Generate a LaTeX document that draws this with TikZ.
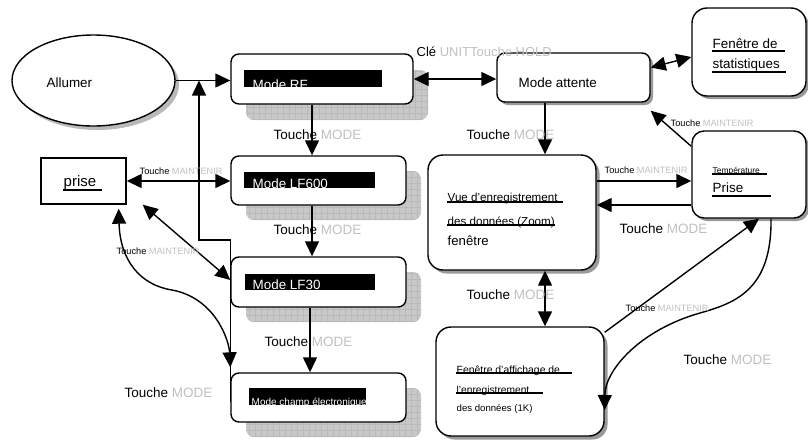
\documentclass[tikz,border=0pt]{standalone}
\usepackage{xcolor}
\usepackage{fontspec}
\setmainfont{Liberation Sans}
\usepackage{tikz}
\usetikzlibrary{shapes.geometric}
\usetikzlibrary{arrows.meta}

\definecolor{lgray}{RGB}{192,192,192}
\definecolor{shgray}{RGB}{200,200,200}
\newcommand{\tch}[1]{Touche \textcolor{lgray}{#1}}

\begin{document}
\begin{tikzpicture}[x=1pt,y=-1pt,line width=1.4pt]

			\tikzstyle{modebox} = [draw,fill=white,rounded corners=8pt,inner sep=0pt]
			\tikzstyle{gridshadow} = [fill=shgray,rounded corners=8pt,inner sep=0pt,
				path picture={\draw[gray!55,line width=0.4pt,step=6pt] (path picture bounding box.south west) grid (path picture bounding box.north east);}]
			\tikzstyle{winbox} = [draw,fill=white,inner sep=0pt]
			\tikzstyle{txt} = [anchor=base west,inner sep=0pt,font=\fontsize{13.4}{16}\selectfont]
			\tikzstyle{lbl} = [anchor=base west,inner sep=0pt,font=\fontsize{13.5}{16}\selectfont]
			\tikzstyle{slbl} = [anchor=base west,inner sep=0pt,font=\fontsize{9.2}{11}\selectfont]
			\tikzstyle{arr} = [-{Triangle[length=15pt,width=14pt]}]
			\tikzstyle{darr} = [{Triangle[length=15pt,width=14pt]}-{Triangle[length=15pt,width=14pt]}]
			\tikzstyle{uline} = [line width=2pt]

			\useasboundingbox (0,0) rectangle (808,440);

			% shadows
			\node[ellipse,fill=gray!55,minimum width=163pt,minimum height=91pt,inner sep=0pt] (allumersh) at (97.5,84.5) {};
			\node[gridshadow,minimum width=182pt,minimum height=50pt] (rfsh) at (337,95) {};
			\node[gridshadow,minimum width=175pt,minimum height=49pt] (lfsixsh) at (333.5,195.5) {};
			\node[gridshadow,minimum width=175pt,minimum height=50pt] (lftrsh) at (333.5,297) {};
			\node[gridshadow,minimum width=175pt,minimum height=49pt] (champsh) at (333.5,412.5) {};
			\node[fill=gray!80,rounded corners=8pt,minimum width=153pt,minimum height=49pt,inner sep=0pt] (attentesh) at (576.5,80.5) {};
			\node[fill=gray!80,rounded corners=15pt,minimum width=114pt,minimum height=88pt,inner sep=0pt] (statssh) at (752,55) {};
			\node[fill=gray!80,rounded corners=15pt,minimum width=168pt,minimum height=115pt,inner sep=0pt] (vuesh) at (515.5,216) {};
			\node[fill=gray!80,rounded corners=12pt,minimum width=114pt,minimum height=87pt,inner sep=0pt] (tempsh) at (752,177.5) {};
			\node[fill=gray!80,rounded corners=15pt,minimum width=168pt,minimum height=109pt,inner sep=0pt] (oneksh) at (523.5,385) {};

			% boxes
			\node[ellipse,draw,fill=white,minimum width=163pt,minimum height=91pt,inner sep=0pt] (allumer) at (93.5,80.5) {};
			\node[modebox,minimum width=182pt,minimum height=50pt] (rf) at (322,79) {};
			\node[modebox,minimum width=175pt,minimum height=49pt] (lfsix) at (318.5,180.5) {};
			\node[modebox,minimum width=175pt,minimum height=50pt] (lftr) at (318.5,282) {};
			\node[modebox,minimum width=175pt,minimum height=49pt] (champ) at (318.5,397.5) {};
			\node[winbox,minimum width=85pt,minimum height=46pt] (prise) at (83.5,181) {};
			\node[modebox,minimum width=153pt,minimum height=49pt] (attente) at (573.5,77.5) {};
			\node[winbox,rounded corners=15pt,minimum width=114pt,minimum height=88pt] (stats) at (749,52) {};
			\node[winbox,rounded corners=15pt,minimum width=168pt,minimum height=115pt] (vue) at (512,212.5) {};
			\node[winbox,rounded corners=12pt,minimum width=114pt,minimum height=87pt] (temp) at (749,174.5) {};
			\node[winbox,rounded corners=15pt,minimum width=168pt,minimum height=109pt] (onek) at (520,381.5) {};

			% black bars in the mode boxes
			\fill (rf.north west) ++(14,17) rectangle ++(138,17);
			\fill (lfsix.north west) ++(14,17) rectangle ++(131,16);
			\fill (lftr.north west) ++(15,18) rectangle ++(130,16);
			\fill (champ.north west) ++(19,16) rectangle ++(117,17);

			% texts
			\node[txt] (allumertxt) at (46,87) {Allumer};
			\node[txt,white] (rftxt) at (252,89) {Mode RF};
			\node[txt,white] (lfsixtxt) at (252,188.5) {Mode LF600};
			\node[txt,white] (lftrtxt) at (252,289.5) {Mode LF30};
			\node[txt,white,font=\fontsize{10}{12}\selectfont] (champtxt) at (251,405.5) {Mode champ électronique};
			\node[txt,font=\fontsize{15}{18}\selectfont] (prisetxt) at (63,186) {prise};
			\node[txt] (attentetxt) at (518,87) {Mode attente};
			\node[txt] (statsa) at (712,48) {Fenêtre de};
			\node[txt] (statsb) at (712,68) {statistiques};
			\node[txt,font=\fontsize{11.6}{14}\selectfont] (vuea) at (447,201) {Vue d'enregistrement};
			\node[txt,font=\fontsize{11.6}{14}\selectfont] (vueb) at (447,225) {des données (Zoom)};
			\node[txt,font=\fontsize{13.2}{16}\selectfont] (vuec) at (447,245) {fenêtre};
			\node[txt,font=\fontsize{8.4}{10}\selectfont] (tempa) at (712,173) {Température};
			\node[txt] (tempb) at (712,192) {Prise};
			\node[txt,font=\fontsize{10.4}{12}\selectfont] (oneka) at (456,373.5) {Fenêtre d'affichage de};
			\node[txt,font=\fontsize{10.2}{12}\selectfont] (onekb) at (456,393) {l'enregistrement};
			\node[txt,font=\fontsize{9.6}{12}\selectfont] (onekc) at (456,411) {des données (1K)};

			% underlines
			\draw[uline] ([yshift=-4pt]prisetxt.base west) -- ++(39,0);
			\draw[uline] ([yshift=-3pt]statsa.base west) -- ++(73,0);
			\draw[uline] ([yshift=-4pt]statsb.base west) -- ++(74,0);
			\draw[uline] ([yshift=-0.5pt]vuea.base west) -- ++(116,0);
			\draw[uline] (vueb.base west) -- ++(108,0);
			\draw[uline] ([yshift=-1pt]tempa.base west) -- ++(55,0);
			\draw[uline] ([yshift=-4pt]tempb.base west) -- ++(59,0);
			\draw[uline] ([yshift=0.5pt]oneka.base west) -- ++(116,0);
			\draw[uline] (onekb.base west) -- ++(87,0);

			% connectors
			\coordinate (ret) at (199,240);
			\draw[arr] (allumer.east) -- (allumer.east -| rf.west);
			\draw[arr] ([yshift=-4.5pt]champ.west) -- (champ.west |- ret) -- (ret) -- (ret |- allumer.east);
			\draw[arr] ([xshift=-10pt]rf.south) -- ([xshift=-10pt]rf.south |- lfsix.north);
			\draw[arr] ([xshift=-6.5pt]lfsix.south) -- ([xshift=-6.5pt]lfsix.south |- lftr.north);
			\draw[arr] ([xshift=-8.5pt]lftr.south) -- ([xshift=-8.5pt]lftr.south |- champ.north);
			\draw[darr] (prise.east) -- (prise.east -| lfsix.west);
			\draw[darr] ([xshift=16pt]prise.south east) -- ([yshift=2pt]lftr.west);
			\draw[darr] ([xshift=-8pt,yshift=-4pt]prise.south east) .. controls (120,260) and (140,285) .. (172,290) .. controls (215,298) and (229,340) .. ([yshift=5pt]champ.north west);
			\draw[darr] (rf.east) -- (rf.east -| attente.west);
			\draw[darr] ([yshift=10pt]attente.east) -- ([yshift=-5pt]stats.west);
			\draw[arr] ([xshift=-28.5pt]attente.south) -- ([xshift=-28.5pt]attente.south |- vue.north);
			\draw[arr] ([yshift=31.5pt]vue.east) -- ([yshift=31.5pt]vue.east -| temp.west);
			\draw[arr] ([yshift=-30.5pt]temp.west) -- ([yshift=-30.5pt]temp.west -| vue.east);
			\draw[arr] ([yshift=-16pt]temp.north west) -- ([yshift=-8pt]attente.south east);
			\draw[darr] ([xshift=33pt]vue.south) -- ([xshift=33pt]vue.south |- onek.north);
			\draw[arr] ([yshift=-6pt]onek.north east) -- ([xshift=10pt]temp.south);
			\draw[arr] ([xshift=22pt]temp.south) .. controls (772,290) and (735,303) .. (700,313) .. controls (640,330) and (605,370) .. ([yshift=-28.5pt]onek.east);

			% labels
			\node[lbl] (lrf) at (273,139) {\tch{MODE}};
			\node[lbl] (llfsix) at (273,234) {\tch{MODE}};
			\node[lbl] (llftr) at (264,346) {\tch{MODE}};
			\node[lbl] (lret) at (124,397) {\tch{MODE}};
			\node[slbl] (lprisea) at (139,174) {\tch{MAINTENIR}};
			\node[slbl] (lpriseb) at (116,254) {\tch{MAINTENIR}};
			\node[lbl,font=\fontsize{13}{16}\selectfont] (lhold) at (416,56) {Clé \textcolor{lgray}{UNITTouche HOLD}};
			\node[lbl] (lvue) at (466,139) {\tch{MODE}};
			\node[slbl] (ltempa) at (670,126) {\tch{MAINTENIR}};
			\node[slbl] (ltempb) at (604,173) {\tch{MAINTENIR}};
			\node[lbl] (ltempc) at (619,233) {\tch{MODE}};
			\node[lbl] (lonek) at (466,299) {\tch{MODE}};
			\node[slbl] (lonekb) at (625,311) {\tch{MAINTENIR}};
			\node[lbl] (lcurve) at (683,364) {\tch{MODE}};
		\end{tikzpicture}
\end{document}
